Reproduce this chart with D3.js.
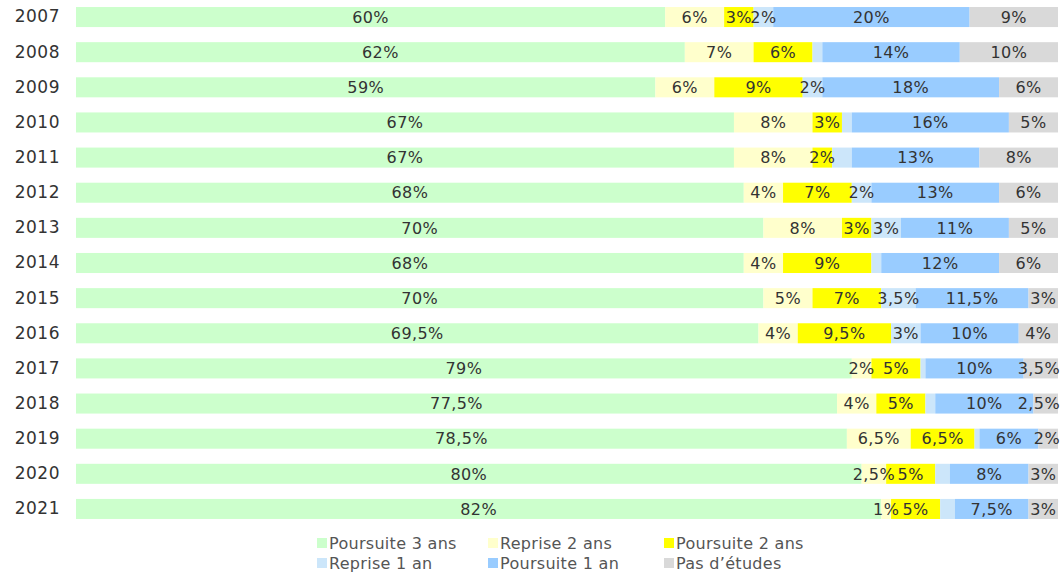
<!DOCTYPE html>
<html>
<head>
<meta charset="utf-8">
<script src="https://cdn.jsdelivr.net/npm/d3@7"></script>
<style>
  body { margin: 0; background: #fff; }
  text { font-family: "DejaVu Sans", sans-serif; }
</style>
</head>
<body>
<div id="chart"></div>
<script>
// values (percent)
let years = [2007, 2008, 2009, 2010, 2011, 2012, 2013, 2014, 2015, 2016, 2017, 2018, 2019, 2020, 2021];
let poursuite3 = [60, 62, 59, 67, 67, 68, 70, 68, 70, 69.5, 79, 77.5, 78.5, 80, 82];
let reprise2 = [6, 7, 6, 8, 8, 4, 8, 4, 5, 4, 2, 4, 6.5, 2.5, 1];
let poursuite2 = [3, 6, 9, 3, 2, 7, 3, 9, 7, 9.5, 5, 5, 6.5, 5, 5];
let reprise1 = [2, 1, 2, 1, 2, 2, 3, 1, 3.5, 3, 0.5, 1, 0.5, 1.5, 1.5];
let poursuite1 = [20, 14, 18, 16, 13, 13, 11, 12, 11.5, 10, 10, 10, 6, 8, 7.5];
let pasEtudes = [9, 10, 6, 5, 8, 6, 5, 6, 3, 4, 3.5, 2.5, 2, 3, 3];

let seriesNames = ["Poursuite 3 ans", "Reprise 2 ans", "Poursuite 2 ans", "Reprise 1 an", "Poursuite 1 an", "Pas d\u2019\u00e9tudes"];
let seriesValues = [poursuite3, reprise2, poursuite2, reprise1, poursuite1, pasEtudes];
let colors = ["#ccffcc", "#ffffcc", "#ffff00", "#cce6fa", "#99ccff", "#d9d9d9"];

// segments that carry no label in the original
let unlabeled = {
  "Reprise 1 an": [2008, 2010, 2011, 2014, 2017, 2018, 2019, 2020, 2021]
};

let width = 1061;
let height = 574;
let margin = { top: 0, left: 76, right: 3 };

let rows = years.map((y, i) => {
  let row = { year: y };
  seriesNames.forEach((s, k) => row[s] = seriesValues[k][i]);
  return row;
});

let svg = d3.select("#chart").append("svg")
  .attr("width", width)
  .attr("height", height);

let xScale = d3.scaleLinear()
  .domain([0, 100])
  .range([margin.left, width - margin.right]);

let yScale = d3.scaleBand()
  .domain(years)
  .range([0, 526])
  .paddingInner(0.43)
  .paddingOuter(0.2);

let stack = d3.stack().keys(seriesNames)(rows);

let layers = svg.selectAll("g.layer")
  .data(stack)
  .enter().append("g")
  .attr("class", "layer")
  .attr("fill", (d, i) => colors[i]);

layers.selectAll("rect")
  .data(d => d)
  .enter().append("rect")
  .attr("x", d => xScale(d[0]))
  .attr("y", d => yScale(d.data.year))
  .attr("width", d => xScale(d[1]) - xScale(d[0]))
  .attr("height", yScale.bandwidth());

// value labels
let fmt = v => String(v).replace(".", ",") + "%";
stack.forEach(layer => {
  let hidden = unlabeled[layer.key] || [];
  svg.append("g").selectAll("text")
    .data(layer.filter(d => !hidden.includes(d.data.year)))
    .enter().append("text")
    .attr("x", d => (xScale(d[0]) + xScale(d[1])) / 2)
    .attr("y", d => yScale(d.data.year) + yScale.bandwidth() / 2)
    .attr("dy", "0.36em")
    .attr("text-anchor", "middle")
    .attr("font-size", 16)
    .attr("letter-spacing", 0.4)
    .attr("fill", "#333")
    .text(d => fmt(d.data[layer.key]))
    .each(function() {
      // keep labels on the far right inside the picture
      let w = this.getComputedTextLength();
      let x = +d3.select(this).attr("x");
      if (x + w / 2 > width - 1) d3.select(this).attr("x", width - 1 - w / 2);
    });
});

// year axis
let yAxis = svg.append("g")
  .attr("transform", "translate(" + (margin.left - 16) + ",0)")
  .call(d3.axisLeft(yScale).tickSize(0).tickPadding(0));
yAxis.select(".domain").remove();
yAxis.selectAll("text")
  .attr("font-family", "DejaVu Sans, sans-serif")
  .attr("font-size", 17)
  .attr("letter-spacing", 0.5)
  .attr("fill", "#333");

// legend
let legendX = [317, 488, 664];
let legend = svg.append("g").selectAll("g")
  .data(seriesNames)
  .enter().append("g")
  .attr("transform", (d, i) => "translate(" + legendX[i % 3] + "," + (543 + Math.floor(i / 3) * 20) + ")");
legend.append("rect")
  .attr("x", 0).attr("y", -5)
  .attr("width", 10).attr("height", 10)
  .attr("fill", (d, i) => colors[i]);
legend.append("text")
  .attr("x", 12)
  .attr("dy", "0.36em")
  .attr("font-size", 16)
  .attr("letter-spacing", 0.3)
  .attr("fill", "#555")
  .text(d => d);
</script>
</body>
</html>
